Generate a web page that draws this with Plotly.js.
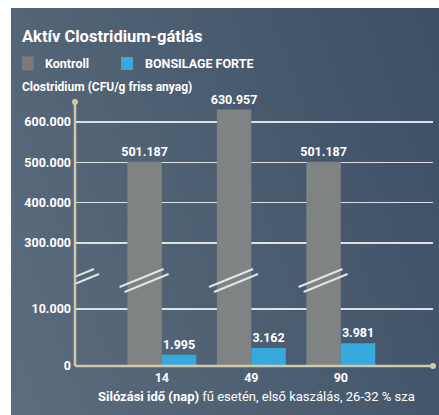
<!DOCTYPE html>
<html>
<head>
<meta charset="utf-8">
<script src="https://cdn.plot.ly/plotly-3.0.1.min.js"></script>
<style>
  html, body { margin: 0; padding: 0; background: #ffffff; }
  #wrap { position: relative; width: 439px; height: 415px; overflow: hidden; }
  #bg { position: absolute; left: 11px; top: 8px; width: 428px; height: 407px;
        background: linear-gradient(70deg, #5c6c7f 0%, #506174 40%, #44566b 75%, #3e5065 100%); }
  #chart { position: absolute; left: 0; top: 0; width: 439px; height: 415px; }
</style>
</head>
<body>
<div id="wrap"><div id="bg"></div><div id="chart"></div></div>
<script>
// ---- data ----
const categories = ['14', '49', '90'];
const kontroll = [501187, 630957, 501187];
const bonsilage = [1995, 3162, 3981];
const seriesNames = ['Kontroll', 'BONSILAGE FORTE'];
const yTicksLower = [0, 10000];
const yTicksUpper = [300000, 400000, 500000, 600000];

// ---- layout helpers (pixel -> paper) ----
const W = 439, H = 415;
const M = {l: 75, r: 6, t: 80, b: 49};
const PW = W - M.l - M.r, PH = H - M.t - M.b;
const pxX = p => (p - M.l) / PW;
const pxY = p => (H - M.b - p) / PH;

const FONT = 'Roboto, "Open Sans", sans-serif';
const GRAY = '#808383';
const BLUE = '#38a9df';
const AXIS = '#cdc9aa';
const GRID = '#dde1e4';

const breakY = 280;
const d = pxY(breakY);
const lowerMax = 15088;
// upper scale: 300.000 at y=243, 600.000 at y=122
const upPx = 121 / 300000;
const upperMin = 600000 - (breakY - 122) / upPx;
const upperMax = 600000 + (122 - M.t) / upPx;
const axisTopY = 102;

const xs = categories.map((c, i) => i);
const bw = 0.385;

const labelFont = {family: FONT, size: 12.5, color: '#ffffff', weight: 700};
const common = {x: xs, type: 'bar', width: bw, showlegend: false, hoverinfo: 'skip', constraintext: 'none'};

const traces = [
  Object.assign({}, common, {y: kontroll, yaxis: 'y', offset: -bw, marker: {color: GRAY}}),
  Object.assign({}, common, {y: kontroll, yaxis: 'y2', offset: -bw, marker: {color: GRAY},
    texttemplate: '%{y:,}', textposition: 'outside', textfont: labelFont}),
  Object.assign({}, common, {y: bonsilage, yaxis: 'y', offset: 0, marker: {color: BLUE},
    texttemplate: '%{y:,}', textposition: 'outside', textfont: labelFont, cliponaxis: false})
];

const shapes = [];
// break marks: on the y axis and on each Kontroll bar
const breakXs = [-0.97].concat(xs.map(i => i - bw / 2));
breakXs.forEach(bx => {
  [[-3, 2], [2, -3]].forEach(([dx, dy]) => {
    shapes.push({type: 'line', xref: 'x', yref: 'paper', xsizemode: 'pixel', ysizemode: 'pixel',
      xanchor: bx, yanchor: d, x0: dx - 22, x1: dx + 22, y0: dy - 9, y1: dy + 9,
      line: {color: '#e2e4e6', width: 2}, layer: 'above'});
  });
});
// axis lines
shapes.push({type: 'line', xref: 'paper', yref: 'paper', x0: 0, x1: 0, y0: 0, y1: pxY(axisTopY), line: {color: AXIS, width: 2.5}, layer: 'above'});
shapes.push({type: 'line', xref: 'paper', yref: 'paper', x0: 0, x1: 1, y0: 0, y1: 0, line: {color: AXIS, width: 2.5}, layer: 'above'});
shapes.push({type: 'circle', xref: 'paper', yref: 'paper', xsizemode: 'pixel', ysizemode: 'pixel',
  xanchor: 0, yanchor: pxY(axisTopY), x0: -3, x1: 3, y0: -3, y1: 3, fillcolor: AXIS, line: {width: 0}, layer: 'above'});
shapes.push({type: 'circle', xref: 'paper', yref: 'paper', xsizemode: 'pixel', ysizemode: 'pixel',
  xanchor: 1, yanchor: 0, x0: -3, x1: 3, y0: -3, y1: 3, fillcolor: AXIS, line: {width: 0}, layer: 'above'});
// legend squares
shapes.push({type: 'rect', xref: 'paper', yref: 'paper', x0: pxX(22), x1: pxX(33.5), y0: pxY(70.5), y1: pxY(56.5), fillcolor: '#7a7c7c', line: {width: 0}});
shapes.push({type: 'rect', xref: 'paper', yref: 'paper', x0: pxX(121), x1: pxX(133), y0: pxY(70), y1: pxY(57), fillcolor: BLUE, line: {width: 0}});

const ann = (text, x, y, size, extra) => Object.assign({
  text: text, xref: 'paper', yref: 'paper', x: pxX(x), y: pxY(y), xanchor: 'left', yanchor: 'middle',
  showarrow: false, font: {family: FONT, size: size, color: '#ffffff'}
}, extra || {});

const annotations = [
  ann('<b>Aktív Clostridium-gátlás</b>', 20, 37, 16.5),
  ann('<b>' + seriesNames[0] + '</b>', 43, 63.5, 12.5),
  ann('<b>' + seriesNames[1] + '</b>', 143, 63.5, 12.5),
  ann('<b>Clostridium (CFU/g friss anyag)</b>', 20, 87, 12),
  ann('<b>Silózási idő (nap)</b> fű esetén, első kaszálás, 26-32 % sza', 96, 396, 13)
];

const tickFont = {family: FONT, size: 12.5, color: '#ffffff', weight: 700};

const layout = {
  width: W, height: H, margin: M,
  paper_bgcolor: 'rgba(0,0,0,0)', plot_bgcolor: 'rgba(0,0,0,0)',
  separators: ',.',
  barmode: 'overlay',
  showlegend: false,
  xaxis: {range: [-0.97, 3.03], tickvals: xs, ticktext: categories, showgrid: false, zeroline: false,
    showline: false, ticks: '', tickfont: tickFont, fixedrange: true, ticklabelstandoff: 2},
  yaxis: {domain: [0, d], range: [0, lowerMax], tickvals: yTicksLower, tickformat: ',',
    showgrid: true, gridcolor: GRID, gridwidth: 1.5, zeroline: false, showline: false, ticks: '',
    tickfont: tickFont, fixedrange: true, ticklabelstandoff: 3},
  yaxis2: {domain: [d, 1], range: [upperMin, upperMax], anchor: 'x', tickvals: yTicksUpper, tickformat: ',',
    showgrid: true, gridcolor: GRID, gridwidth: 1.5, zeroline: false, showline: false, ticks: '',
    tickfont: tickFont, fixedrange: true, ticklabelstandoff: 3},
  shapes: shapes,
  annotations: annotations
};

Plotly.newPlot('chart', traces, layout, {staticPlot: true, displayModeBar: false});
</script>
</body>
</html>
